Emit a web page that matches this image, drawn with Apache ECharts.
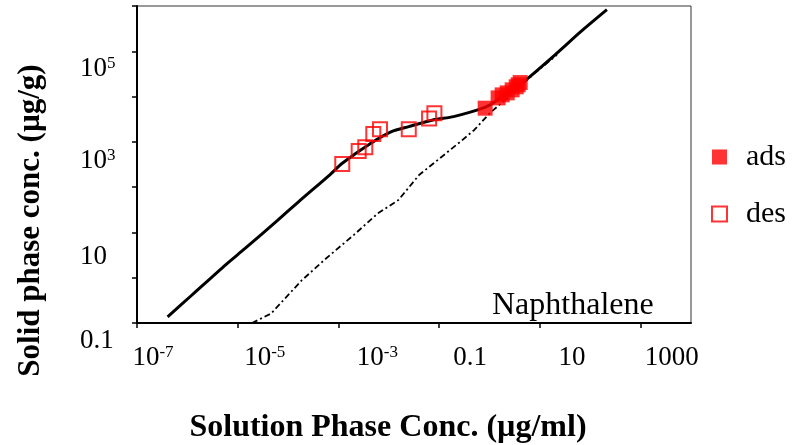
<!DOCTYPE html>
<html>
<head>
<meta charset="utf-8">
<script src="https://cdn.jsdelivr.net/npm/echarts@6/dist/echarts.min.js"></script>
<style>html,body{margin:0;padding:0;background:#fff}#c{width:792px;height:445px}</style>
</head>
<body>
<div id="c"></div>
<script>
// ---- data (real values, log-log plot) ----
const solidX = [4.05e-7, 1.22e-6, 5.90e-6, 1.40e-5, 6.26e-5, 1.61e-4, 6.65e-4, 1.19e-3, 4.40e-3, 0.0113, 0.0249, 0.0750, 0.193, 0.582, 0.933, 1.62, 5.27, 21.8, 65.6, 214];
const solidY = [0.136, 0.410, 1.98, 4.43, 18.7, 47.5, 185, 336, 931, 1680, 2170, 3050, 3610, 5080, 6220, 9220, 23400, 91200, 274000, 828000];
const dashX = [1.92e-5, 4.57e-5, 1.88e-4, 5.66e-4, 2.00e-3, 6.04e-3, 0.0155, 0.0398, 0.103, 0.264, 0.497, 1.01, 2.40, 7.22, 21.8];
const dashY = [0.1, 0.161, 0.881, 2.66, 8.71, 26.3, 51.9, 185, 434, 1010, 1830, 4290, 10000, 30200, 83700];
const adsX = [0.818, 1.48, 1.78, 2.24, 2.81, 3.38, 3.70, 4.06];
const adsY = [5540, 9350, 10900, 12080, 14070, 16400, 18150, 20400];
const desX = [1.19e-3, 2.52e-3, 3.41e-3, 4.92e-3, 6.68e-3, 0.0249, 0.0630, 0.0804];
const desY = [324, 629, 760, 1496, 1901, 1901, 3260, 4295];
const seriesNames = ['ads', 'des'];
// tick labels: [base, superscript] at log10 positions
const xTickExp = [-7, -5, -3, -1, 1, 3];
const xTickLabels = [['10', '-7'], ['10', '-5'], ['10', '-3'], ['0.1', ''], ['10', ''], ['1000', '']];
const yTickExp = [-1, 1, 3, 5];
const yTickLabels = [['0.1', ''], ['10', ''], ['10', '3'], ['10', '5']];
const xTitle = 'Solution Phase Conc. (µg/ml)';
const yTitle = 'Solid phase conc. (µg/g)';
const noteText = 'Naphthalene';

// ---- styling ----
const FF = '"Liberation Serif", "Times New Roman", serif';
const xShift = [16, 27, 39, 31, 32, 31];   // label centre offset from tick (px)
const yShift = [18, 24, 19, 18];          // label centre offset below tick (px)

const toLog = (xs, ys) => xs.map((x, i) => [Math.log10(x), Math.log10(ys[i])]);

const xRich = {
  b: { fontSize: 27, fontFamily: FF, color: '#000', lineHeight: 28 },
  s: { fontSize: 17, fontFamily: FF, color: '#000', lineHeight: 17, verticalAlign: 'top' }
};
xShift.forEach((v, i) => { xRich['w' + i] = { width: 2 * v, height: 10 }; });
const yRich = {
  b: { fontSize: 27, fontFamily: FF, color: '#000', lineHeight: 28 },
  s: { fontSize: 17, fontFamily: FF, color: '#000', lineHeight: 17, verticalAlign: 'top' }
};
yShift.forEach((v, i) => { yRich['h' + i] = { height: 2 * v, lineHeight: 2 * v, width: 1 }; });

function labelText(lab) {
  return '{b|' + lab[0] + '}' + (lab[1] ? '{s|' + lab[1] + '}' : '');
}

const chart = echarts.init(document.getElementById('c'), null, { renderer: 'canvas' });
chart.setOption({
  animation: false,
  backgroundColor: '#fff',
  grid: { left: 137, top: 6, width: 554, height: 317, show: true, borderColor: '#333', borderWidth: 1, backgroundColor: 'transparent', containLabel: false, outerBoundsMode: 'none' },
  xAxis: {
    type: 'value', min: -7, max: 4,
    name: xTitle, nameLocation: 'middle', nameGap: 89,
    nameTextStyle: { fontSize: 32, fontWeight: 'bold', fontFamily: FF, color: '#000', lineHeight: 32, padding: [0, 52, 0, 0] },
    axisLine: { show: true, onZero: false, lineStyle: { color: '#000', width: 2 } },
    axisTick: { show: true, length: 5, customValues: xTickExp, lineStyle: { color: '#000', width: 1.5 } },
    splitLine: { show: false },
    axisLabel: {
      customValues: xTickExp, margin: 21, align: 'center', verticalAlign: 'top', hideOverlap: false,
      formatter: v => { const i = xTickExp.indexOf(Math.round(v)); return i < 0 ? '' : '{w' + i + '|}' + labelText(xTickLabels[i]); },
      rich: xRich
    }
  },
  yAxis: {
    type: 'value', min: -1, max: 6, interval: 1,
    name: yTitle, nameLocation: 'middle', nameGap: 90, nameRotate: 90,
    nameTextStyle: { fontSize: 31, fontWeight: 'bold', fontFamily: FF, color: '#000', lineHeight: 32, padding: [0, 112, 0, 0] },
    axisLine: { show: true, onZero: false, lineStyle: { color: '#000', width: 2 } },
    axisTick: { show: true, length: 5, lineStyle: { color: '#000', width: 1.5 } },
    splitLine: { show: false },
    axisLabel: {
      customValues: yTickExp, margin: 57, align: 'left', hideOverlap: false, showMinLabel: true, showMaxLabel: true,
      formatter: v => { const i = yTickExp.indexOf(Math.round(v)); return i < 0 ? '' : '{h' + i + '|}\n' + labelText(yTickLabels[i]); },
      rich: yRich
    }
  },
  legend: {
    data: seriesNames, orient: 'vertical', left: 706, top: 137,
    itemWidth: 15, itemHeight: 15, itemGap: 27, icon: 'rect',
    textStyle: { fontSize: 30, fontFamily: FF, color: '#000', lineHeight: 26, rich: { g: { width: 14 } } },
    formatter: n => '{g|}' + n
  },
  graphic: [{
    type: 'text', left: 492, top: 290,
    style: { text: noteText, font: '32px "Liberation Serif", serif', fill: '#000' }
  }],
  series: [
    { type: 'line', name: 'fit1', data: toLog(solidX, solidY), showSymbol: false, smooth: 0.25,
      lineStyle: { color: '#000', width: 3 }, z: 2 },
    { type: 'line', name: 'fit2', data: toLog(dashX, dashY), showSymbol: false,
      lineStyle: { color: '#000', width: 1.8, type: [6, 3, 2, 3] }, z: 2 },
    { type: 'scatter', name: 'ads', data: toLog(adsX, adsY), symbol: 'rect', symbolSize: 15,
      itemStyle: { color: '#ff0000' }, z: 3 },
    { type: 'scatter', name: 'des', data: toLog(desX, desY), symbol: 'rect', symbolSize: 14,
      itemStyle: { color: 'rgba(255,255,255,0)', borderColor: '#ff0000', borderWidth: 2 }, z: 4 }
  ]
});
</script>
</body>
</html>
